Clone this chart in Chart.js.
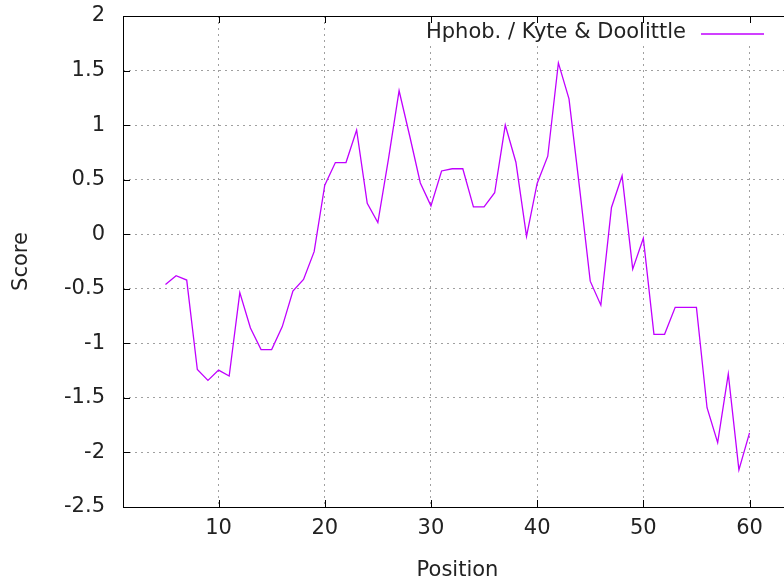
<!DOCTYPE html>
<html>
<head>
<meta charset="utf-8">
<script src="https://cdn.jsdelivr.net/npm/chart.js@4/dist/chart.umd.min.js"></script>
<style>
html,body{margin:0;padding:0;overflow:hidden;background:#fff;width:784px;height:584px;}
canvas{display:block;}
</style>
</head>
<body>
<canvas id="c" width="800" height="584"></canvas>
<script>
const positions = [5,6,7,8,9,10,11,12,13,14,15,16,17,18,19,20,21,22,23,24,25,26,27,28,29,30,31,32,33,34,35,36,37,38,39,40,41,42,43,44,45,46,47,48,49,50,51,52,53,54,55,56,57,58,59,60];
const scores = [-0.46,-0.38,-0.42,-1.24,-1.34,-1.245,-1.30,-0.535,-0.86,-1.057,-1.057,-0.847,-0.52,-0.415,-0.16,0.45,0.657,0.657,0.955,0.284,0.107,0.69,1.315,0.90,0.47,0.26,0.58,0.60,0.60,0.25,0.25,0.38,1.0,0.66,-0.02,0.465,0.715,1.57,1.24,0.42,-0.43,-0.65,0.245,0.535,-0.32,-0.037,-0.917,-0.917,-0.67,-0.67,-0.67,-1.59,-1.91,-1.28,-2.16,-1.82];
const xTickValues = [10,20,30,40,50,60];
const yTickValues = [2,1.5,1,0.5,0,-0.5,-1,-1.5,-2,-2.5];
const seriesLabel = 'Hphob. / Kyte & Doolittle';
const xTitle = 'Position';
const yTitle = 'Score';

const FONT = 'DejaVu Sans';
const FS = 21;
const TXT = '#222';
const LINE = '#c000ff';

const framePlugin = {
  id: 'frame',
  beforeDatasetsDraw(chart) {
    const ctx = chart.ctx, a = chart.chartArea;
    ctx.save();
    ctx.fillStyle = '#fff';
    ctx.fillRect(418, a.top, a.right - 418, 30);
    ctx.restore();
  },
  afterDraw(chart) {
    const ctx = chart.ctx, a = chart.chartArea;
    const xs = chart.scales.x, ys = chart.scales.y;
    ctx.save();
    ctx.strokeStyle = '#000';
    ctx.lineWidth = 1;
    ctx.strokeRect(Math.round(a.left) + 0.5, Math.round(a.top) + 0.5, Math.round(a.right - a.left), Math.round(a.bottom - a.top));
    ctx.beginPath();
    const tl = 7;
    xTickValues.forEach(v => {
      const px = Math.round(xs.getPixelForValue(v)) + 0.5;
      ctx.moveTo(px, a.bottom); ctx.lineTo(px, a.bottom - tl);
      ctx.moveTo(px, a.top); ctx.lineTo(px, a.top + tl);
    });
    yTickValues.forEach(v => {
      const py = Math.round(ys.getPixelForValue(v)) + 0.5;
      ctx.moveTo(a.left, py); ctx.lineTo(a.left + tl, py);
    });
    ctx.stroke();
    // legend
    ctx.font = FS + 'px "' + FONT + '"';
    ctx.fillStyle = TXT;
    ctx.textAlign = 'right';
    ctx.textBaseline = 'middle';
    ctx.fillText(seriesLabel, 686, 33);
    ctx.strokeStyle = LINE;
    ctx.lineWidth = 1.3;
    ctx.beginPath();
    ctx.moveTo(701, 34); ctx.lineTo(764, 34);
    ctx.stroke();
    ctx.restore();
  }
};

new Chart(document.getElementById('c'), {
  type: 'scatter',
  data: {
    datasets: [{
      label: seriesLabel,
      data: positions.map((p, i) => ({x: p, y: scores[i]})),
      showLine: true,
      borderColor: LINE,
      backgroundColor: LINE,
      borderWidth: 1.3,
      pointRadius: 0,
      tension: 0
    }]
  },
  options: {
    responsive: false,
    animation: false,
    layout: {padding: {top: 16, right: 8, left: 0, bottom: 0}},
    plugins: {legend: {display: false}, tooltip: {enabled: false}},
    scales: {
      x: {
        type: 'linear', min: 1, max: 64,
        afterBuildTicks: s => { s.ticks = xTickValues.map(v => ({value: v})); },
        afterFit: s => { s.height = 77; s.paddingLeft = 0; s.paddingRight = 0; },
        grid: {color: '#a0a0a0', lineWidth: 1, drawTicks: false},
        border: {display: false, dash: [2, 4]},
        ticks: {padding: 9, color: TXT, font: {family: FONT, size: FS}, maxRotation: 0},
        title: {display: true, text: xTitle, color: TXT, font: {family: FONT, size: FS}, padding: {bottom: 1, top: 0}}
      },
      y: {
        type: 'linear', min: -2.5, max: 2,
        afterBuildTicks: s => { s.ticks = yTickValues.map(v => ({value: v})); },
        afterFit: s => { s.width = 123; s.paddingTop = 0; s.paddingBottom = 0; },
        grid: {color: '#a0a0a0', lineWidth: 1, drawTicks: false},
        border: {display: false, dash: [2, 4]},
        ticks: {padding: 18, color: TXT, font: {family: FONT, size: FS}, callback: v => String(v)},
        title: {display: true, text: yTitle, color: TXT, font: {family: FONT, size: FS}, padding: {top: 9, bottom: 0}}
      }
    }
  },
  plugins: [framePlugin]
});
</script>
</body>
</html>
